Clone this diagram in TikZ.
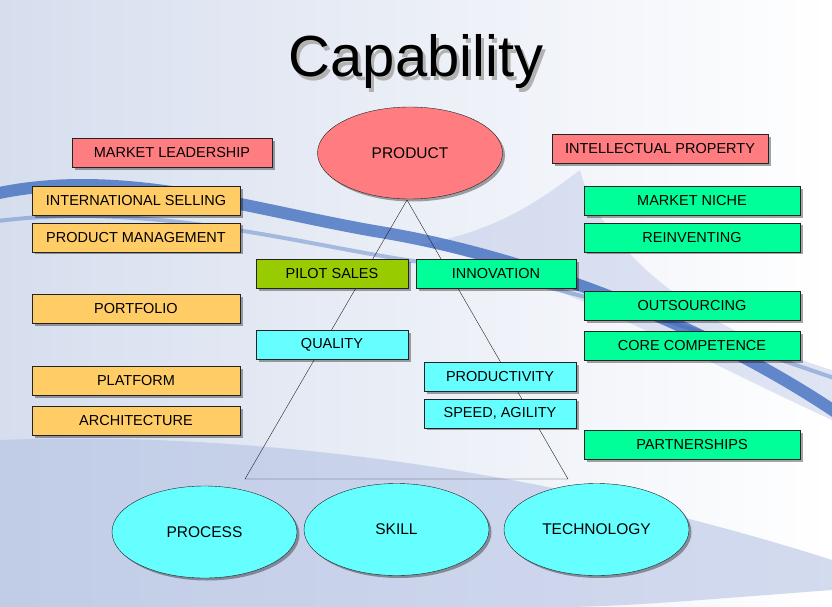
\documentclass[tikz,border=0pt]{standalone}
\usepackage{fontspec}
\setmainfont{Liberation Sans}
\usetikzlibrary{positioning,shapes.geometric,shadows}
\definecolor{pinkfill}{RGB}{255,125,128}
\definecolor{amberfill}{RGB}{255,204,102}
\definecolor{limefill}{RGB}{153,204,0}
\definecolor{aquafill}{RGB}{102,255,255}
\definecolor{mintfill}{RGB}{0,255,153}
\definecolor{ink}{RGB}{35,35,35}
\definecolor{mist}{RGB}{214,222,238}
\definecolor{haze}{RGB}{176,190,226}
\definecolor{swoosh}{RGB}{45,95,185}

\begin{document}
\begin{tikzpicture}[x=1pt,y=-1pt,node distance=7pt,box/.style={rectangle,draw=ink,thin,inner sep=0pt,minimum height=29pt,font=\fontsize{14.5}{16}\selectfont,drop shadow={shadow xshift=2.5pt,shadow yshift=-2.5pt,fill=black,opacity=0.35}},leftbox/.style={box,fill=amberfill,minimum width=208pt},rightbox/.style={box,fill=mintfill,minimum width=216pt},midbox/.style={box,minimum width=152pt},oval/.style={ellipse,draw=ink,thin,fill=aquafill,inner sep=0pt,minimum width=185pt,minimum height=92pt,font=\fontsize{15.5}{17}\selectfont,drop shadow={shadow xshift=2.5pt,shadow yshift=-2.5pt,fill=black,opacity=0.35}},heading/.style={font=\fontsize{58}{64}\selectfont,inner sep=0pt,anchor=base}]
\useasboundingbox (0,0) rectangle (832,607);
% backdrop
\begin{scope}
\clip (0,0) rectangle (832,607);
\shade[left color=mist,right color=white] (0,0) rectangle (832,607);
\fill[haze,opacity=0.55] (0,440) .. controls (250,430) and (550,470) .. (832,560) -- (832,590) .. controls (700,600) and (620,607) .. (560,607) -- (0,607) -- cycle;
\fill[haze,opacity=0.4] (420,245) .. controls (500,230) and (540,200) .. (580,170) .. controls (600,250) and (700,330) .. (832,370) -- (832,420) .. controls (680,350) and (540,270) .. cycle;
\draw[swoosh,line width=12pt,opacity=0.7] (-10,195) .. controls (120,165) and (250,210) .. (380,232) .. controls (520,255) and (700,320) .. (840,415);
\draw[swoosh,line width=4pt,opacity=0.35] (-10,222) .. controls (150,200) and (300,245) .. (420,262) .. controls (600,290) and (720,340) .. (840,380);
\end{scope}
% title
\node[heading,text=black!30] (titleshadow) at (419,81) {Capability};
\node[heading] (title) at (416,77) {Capability};
% pyramid
\coordinate (apex) at (407,200);
\coordinate (baseleft) at (245,479);
\coordinate (baseright) at (568,479);
\draw[ink,thin] (apex) -- (baseleft) -- (baseright) -- cycle;
% top
\node[oval,fill=pinkfill] (product) at (410,153) {PRODUCT};
\node[box,fill=pinkfill,minimum width=200pt] (leadership) at (172,153) {MARKET LEADERSHIP};
\node[box,fill=pinkfill,minimum width=216pt] (property) at (660,148.5) {INTELLECTUAL PROPERTY};
% left column
\node[leftbox] (selling) at (136,201) {INTERNATIONAL SELLING};
\node[leftbox,below=of selling] (management) {PRODUCT MANAGEMENT};
\node[leftbox] (portfolio) at (136,308.5) {PORTFOLIO};
\node[leftbox] (platform) at (136,380.5) {PLATFORM};
\node[leftbox,below=11pt of platform] (architecture) {ARCHITECTURE};
% middle
\node[midbox,fill=limefill] (pilot) at (332,273.5) {PILOT SALES};
\node[midbox,fill=aquafill] (quality) at (332,345) {QUALITY};
\node[midbox,fill=mintfill,minimum width=160pt] (innovation) at (496,273.5) {INNOVATION};
\node[midbox,fill=aquafill] (productivity) at (500,377) {PRODUCTIVITY};
\node[midbox,fill=aquafill,below=of productivity] (speed) {SPEED, AGILITY};
% right column
\node[rightbox] (niche) at (692,201) {MARKET NICHE};
\node[rightbox,below=of niche] (reinventing) {REINVENTING};
\node[rightbox] (outsourcing) at (692,305.5) {OUTSOURCING};
\node[rightbox,below=11pt of outsourcing] (competence) {CORE COMPETENCE};
\node[rightbox] (partnerships) at (692,444.5) {PARTNERSHIPS};
% base
\node[oval] (process) at (204.5,532) {PROCESS};
\node[oval] (skill) at (396.5,529.5) {SKILL};
\node[oval] (technology) at (596.5,529.5) {TECHNOLOGY};
\end{tikzpicture}
\end{document}
